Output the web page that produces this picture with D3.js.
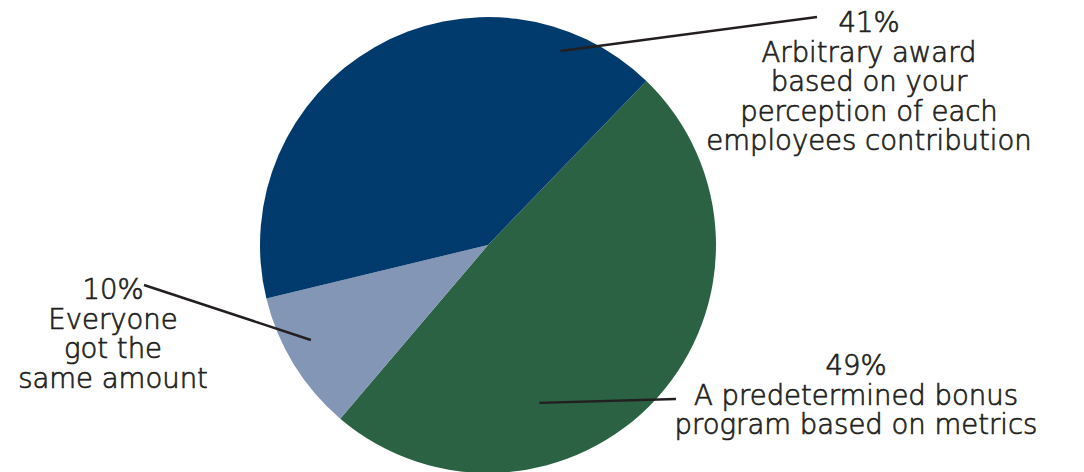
<!DOCTYPE html>
<html>
<head>
<meta charset="utf-8">
<script src="https://cdn.jsdelivr.net/npm/d3@7"></script>
<style>
  html, body { margin: 0; padding: 0; background: #ffffff; }
  svg { display: block; }
  text { font-family: "DejaVu Sans", sans-serif; font-weight: 200; fill: #231f20; stroke: #231f20; stroke-width: 0.7px; }
</style>
</head>
<body>
<svg id="chart" width="1084" height="472"></svg>
<script>
// Survey: how bonuses were distributed
const categories = ["predetermined", "everyone", "arbitrary"];
const values = [49, 10, 41];
const percentLabels = ["49%", "10%", "41%"];
const descriptionLines = [
  ["A predetermined bonus", "program based on metrics"],
  ["Everyone", "got the", "same amount"],
  ["Arbitrary award", "based on your", "perception of each", "employees contribution"]
];
const sliceColors = ["#2b6243", "#8396b5", "#013b6d"];

// Layout
const width = 1084, height = 472;
const cx = 488, cy = 245, radius = 228;
const fontSize = 27.5, lineHeight = 29.5;
const startDeg = 44;

// Label blocks: text centre / first baseline, and leader line ends
// (inner end given in polar form around the pie centre, degrees clockwise from 12 o'clock)
const labelLayout = {
  predetermined: { x: 856, y: 375, innerAngle: 162, innerR: 166, outer: [676, 399] },
  everyone:      { x: 113, y: 299, innerAngle: 241.8, innerR: 201, outer: [144, 285] },
  arbitrary:     { x: 869, y: 32,  innerAngle: 20.5, innerR: 207, outer: [817, 17] }
};

const svg = d3.select("#chart");
const rad = d => d * Math.PI / 180;

const pie = d3.pie()
  .sort(null)
  .value(d => d.value)
  .startAngle(rad(startDeg))
  .endAngle(rad(startDeg) + 2 * Math.PI);

const arc = d3.arc().innerRadius(0).outerRadius(radius);

const data = categories.map((c, i) => ({
  key: c, value: values[i], pct: percentLabels[i], lines: descriptionLines[i], color: sliceColors[i]
}));

const g = svg.append("g").attr("transform", `translate(${cx},${cy})`);

g.selectAll("path.slice")
  .data(pie(data))
  .join("path")
  .attr("class", "slice")
  .attr("d", arc)
  .attr("fill", d => d.data.color);

// Leader lines
const polar = (deg, r) => [cx + r * Math.sin(rad(deg)), cy - r * Math.cos(rad(deg))];

svg.selectAll("line.leader")
  .data(data)
  .join("line")
  .attr("class", "leader")
  .each(function (d) {
    const L = labelLayout[d.key];
    const [x1, y1] = polar(L.innerAngle, L.innerR);
    d3.select(this)
      .attr("x1", x1).attr("y1", y1)
      .attr("x2", L.outer[0]).attr("y2", L.outer[1]);
  })
  .attr("stroke", "#231f20")
  .attr("stroke-width", 2.5)
  .attr("stroke-linecap", "butt");

// Labels
const labels = svg.selectAll("text.label")
  .data(data)
  .join("text")
  .attr("class", "label")
  .attr("text-anchor", "middle")
  .attr("font-size", fontSize)
  .attr("x", d => labelLayout[d.key].x)
  .attr("y", d => labelLayout[d.key].y);

labels.each(function (d) {
  const L = labelLayout[d.key];
  const t = d3.select(this);
  [d.pct, ...d.lines].forEach((line, i) => {
    t.append("tspan")
      .attr("x", L.x)
      .attr("y", L.y + i * lineHeight)
      .text(line);
  });
});
</script>
</body>
</html>
